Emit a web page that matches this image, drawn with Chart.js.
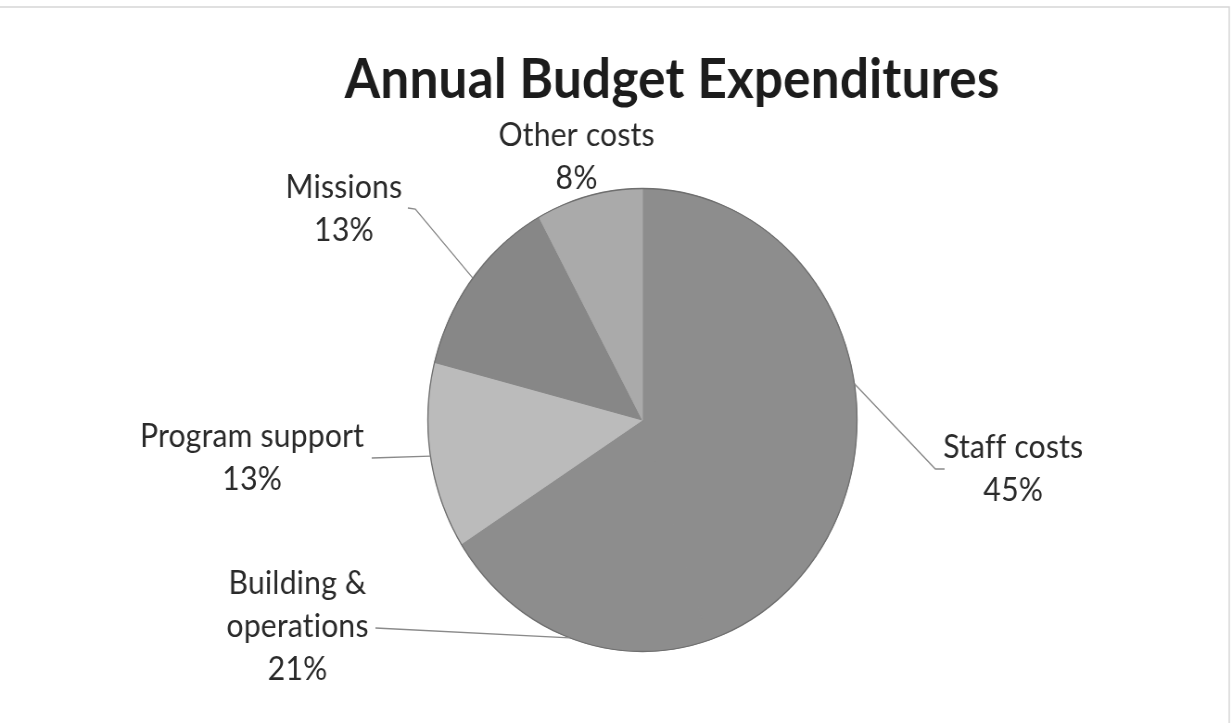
<!DOCTYPE html>
<html>
<head>
<meta charset="utf-8">
<title>Annual Budget Expenditures</title>
<script src="https://cdn.jsdelivr.net/npm/chart.js@4.4.1/dist/chart.umd.min.js"></script>
<style>
  html, body { margin: 0; padding: 0; background: #fff; overflow: hidden; }
  /* the reference is slightly squeezed horizontally, so draw wide and squeeze */
  #wrap { width: 1329px; height: 723px; transform: scaleX(0.927); transform-origin: 0 0; }
</style>
</head>
<body>
<div id="wrap"><canvas id="budgetChart" width="1329" height="723"></canvas></div>
<script>
// Chart data
const categories = ['Staff costs', 'Building & operations', 'Program support', 'Missions', 'Other costs'];
const labelLines = [['Staff costs'], ['Building &', 'operations'], ['Program support'], ['Missions'], ['Other costs']];
const shares = [45, 21, 13, 13, 8];
const shareLabels = ['45%', '21%', '13%', '13%', '8%'];
const sliceColors = ['#8d8d8d', '#8d8d8d', '#bbbbbb', '#878787', '#aaaaaa'];

// where each data label sits: text centre x, first baseline, leader points (label side first)
const labelSpots = [
  { x: 1093, y: 458, leader: [[1019, 469], [1009, 469]] },
  { x: 321, y: 594, leader: [[405, 628]] },
  { x: 272, y: 447, leader: [[401, 458]] },
  { x: 371, y: 198, leader: [[440, 208], [448, 209]] },
  { x: 622, y: 146, leader: [] }
];
const lineGap = 43;
const titleText = 'Annual Budget Expenditures';

function fitFont(ctx, text, weight, target) {
  ctx.font = weight + ' 40px Lato';
  return 40 * target / ctx.measureText(text).width;
}

const pieDecor = {
  id: 'pieDecor',
  beforeDraw(chart) {
    const c = chart.ctx;
    c.save();
    c.fillStyle = '#fff';
    c.fillRect(0, 0, chart.width, chart.height);
    // faint frame of the original screenshot
    c.strokeStyle = '#d6d6d6';
    c.lineWidth = 1.5;
    c.beginPath();
    c.moveTo(0, 7);
    c.lineTo(1326, 7);
    c.lineTo(1326, chart.height);
    c.stroke();
    c.restore();
  },
  afterDatasetsDraw(chart) {
    const c = chart.ctx;
    const arcs = chart.getDatasetMeta(0).data;
    const a0 = arcs[0];
    c.save();
    // darker rim
    c.strokeStyle = '#6f6f6f';
    c.lineWidth = 1.3;
    c.beginPath();
    c.arc(a0.x, a0.y, a0.outerRadius, 0, Math.PI * 2);
    c.stroke();

    // leader lines
    c.strokeStyle = '#8a8a8a';
    c.lineWidth = 1.3;
    arcs.forEach((arc, i) => {
      const pts = labelSpots[i].leader;
      if (!pts.length) return;
      const mid = (arc.startAngle + arc.endAngle) / 2;
      c.beginPath();
      c.moveTo(pts[0][0], pts[0][1]);
      pts.slice(1).forEach(p => c.lineTo(p[0], p[1]));
      c.lineTo(arc.x + Math.cos(mid) * arc.outerRadius, arc.y + Math.sin(mid) * arc.outerRadius);
      c.stroke();
    });

    // data labels (small letter spacing keeps Lato from using ligatures)
    c.letterSpacing = '0.2px';
    const size = fitFont(c, 'Program support', 'normal', 241);
    c.font = 'normal ' + size.toFixed(1) + 'px Lato';
    c.fillStyle = '#2a2a2a';
    c.textAlign = 'center';
    c.textBaseline = 'alphabetic';
    labelLines.forEach((lines, i) => {
      const spot = labelSpots[i];
      lines.concat([shareLabels[i]]).forEach((t, k) => {
        c.fillText(t, spot.x, spot.y + k * lineGap);
      });
    });

    // title
    const tSize = fitFont(c, titleText, 'bold', 709);
    c.font = 'bold ' + tSize.toFixed(1) + 'px Lato';
    c.fillStyle = '#1c1c1c';
    c.fillText(titleText, 725, 98);
    c.restore();
  }
};

const ctx = document.getElementById('budgetChart').getContext('2d');
const budgetChart = new Chart(ctx, {
  type: 'pie',
  data: {
    labels: categories,
    datasets: [{
      data: shares,
      backgroundColor: sliceColors,
      borderColor: sliceColors,
      borderWidth: 1,
      hoverOffset: 0
    }]
  },
  options: {
    responsive: false,
    animation: false,
    layout: { padding: { left: 461, right: 404, top: 188, bottom: 71 } },
    plugins: {
      legend: { display: false },
      title: { display: false },
      tooltip: { enabled: false }
    }
  },
  plugins: [pieDecor]
});
</script>
</body>
</html>
